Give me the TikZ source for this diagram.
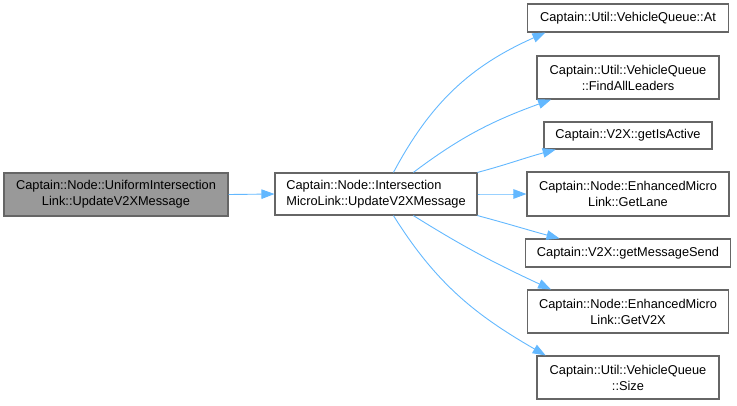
\documentclass[tikz,border=0pt]{standalone}
\usepackage{fontspec}
\setmainfont{Liberation Sans}
\usepackage{tikz}
\usetikzlibrary{arrows.meta}
\definecolor{edgeblue}{HTML}{63B8FF}
\definecolor{boxline}{HTML}{666666}
\definecolor{rootfill}{HTML}{999999}
\tikzset{
  fn/.style={draw=boxline, line width=1.1pt, fill=white, inner sep=0pt, align=center,
    font=\fontsize{12.8}{16}\selectfont},
  root/.style={fn, fill=rootfill},
  edge/.style={draw=edgeblue, line width=0.9pt, -{Triangle[length=13pt,width=9.5pt]}}
}
\begin{document}
\begin{tikzpicture}[x=1pt,y=1pt]
\useasboundingbox (0,0) rectangle (737,-405);
% caller and called function
\node[root, minimum width=224pt, minimum height=43pt] (uniform) at (116,-194.5)
  {Captain::Node::UniformIntersection\\Link::UpdateV2XMessage};
\node[fn, align=left, minimum width=202pt, minimum height=42pt] (micro) at (376,-194)
  {Captain::Node::Intersection\\MicroLink::UpdateV2XMessage};
% callees
\node[fn, minimum width=201pt, minimum height=28pt] (at) at (628,-18)
  {Captain::Util::VehicleQueue::At};
\node[fn, minimum width=182pt, minimum height=43pt] (find) at (628,-77.5)
  {Captain::Util::VehicleQueue\\::FindAllLeaders};
\node[fn, minimum width=168pt, minimum height=27pt] (active) at (628,-135.5)
  {Captain::V2X::getIsActive};
\node[fn, minimum width=202pt, minimum height=44pt] (lane) at (628,-194)
  {Captain::Node::EnhancedMicro\\Link::GetLane};
\node[fn, minimum width=205pt, minimum height=28pt] (send) at (628,-253)
  {Captain::V2X::getMessageSend};
\node[fn, minimum width=201pt, minimum height=43pt] (v2x) at (628,-311.5)
  {Captain::Node::EnhancedMicro\\Link::GetV2X};
\node[fn, minimum width=182pt, minimum height=43pt] (size) at (628,-377.5)
  {Captain::Util::VehicleQueue\\::Size};
\draw[edge] (uniform.east) -- (micro.west);
% calls
\foreach \nm/\sa/\ta/\oa/\ia in {
  at/51/190/62/204, find/30/196/37/200, active/12.5/191/15/195,
  lane/0/180/0/180, send/-12.3/168/-15/165, v2x/-30/164/-32/155,
  size/-51/165/-58/150
}{
  \draw[edge] (micro.\sa) to[out=\oa,in=\ia] (\nm.\ta);
}
\end{tikzpicture}
\end{document}
